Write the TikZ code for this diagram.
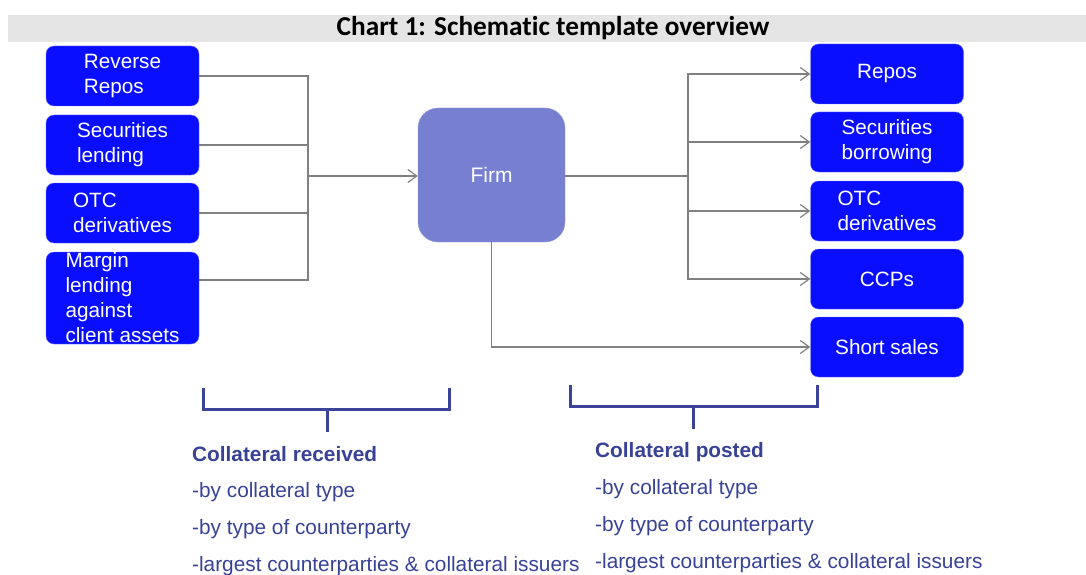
\documentclass[tikz,border=0pt]{standalone}
\usepackage{fontspec}
\setmainfont{Liberation Sans}
\newfontfamily\titlefont[Ligatures=NoCommon]{Carlito}
\usetikzlibrary{arrows.meta}
\definecolor{boxblue}{RGB}{10,14,255}
\definecolor{firmblue}{RGB}{119,128,208}
\definecolor{brackblue}{RGB}{59,68,152}
\definecolor{noteblue}{RGB}{55,66,150}
\definecolor{bandgray}{RGB}{229,229,229}
\tikzset{
  box/.style={draw=boxblue!60!white, fill=boxblue, rounded corners=8pt, minimum width=153pt,
    minimum height=60pt, inner sep=0pt, text=white, align=left, font=\fontsize{20.7}{25}\selectfont},
  conn/.style={draw=gray, line width=1.2pt},
  tip/.style={-{Straight Barb[length=9pt,width=13pt,line width=1.2pt]}},
  brack/.style={draw=brackblue, line width=3pt},
  note/.style={anchor=base west, text=noteblue, inner sep=0pt, font=\fontsize{20.8}{24}\selectfont},
}
\begin{document}
\begin{tikzpicture}[x=1pt,y=-1pt]
	\useasboundingbox (0,0) rectangle (1086,575);
	\fill[bandgray] (8,15) rectangle (1086,42);
	\node[anchor=base,inner sep=0pt,font=\titlefont\bfseries\fontsize{27.3}{30}\selectfont] (title) at (553,36) {Chart 1: Schematic template overview};
	% left side
	\node[box] (rr) at (122.5,76) {Reverse\\Repos};
	\node[box] (sl) at (122.5,145) {Securities\\lending};
	\node[box] (otl) at (122.5,213) {OTC\\derivatives};
	\node[box,minimum height=92pt] (mg) at (122.5,298) {Margin\\lending\\against\\client assets};
	% firm
	\node[fill=firmblue,draw=firmblue!80!white,rounded corners=20pt,minimum width=147pt,minimum height=134pt,text=white,font=\fontsize{21}{25}\selectfont] (firm) at (491.5,175) {Firm};
	% right side
	\node[box] (rp) at (887,74) {Repos};
	\node[box] (sb) at (887,142) {Securities\\borrowing};
	\node[box] (otr) at (887,211) {OTC\\derivatives};
	\node[box] (ccp) at (887,279) {CCPs};
	\node[box] (ss) at (887,347) {Short sales};
	% connectors
	\coordinate (lj) at (308,176);
	\coordinate (rj) at (688,176);
	\foreach \b in {rr,sl,otl}
		\draw[conn] (\b.east) -| (lj);
	\draw[conn] ([yshift=18pt]mg.east) -| (lj);
	\draw[conn,tip,line width=1.8pt] (lj) -- (lj -| firm.west);
	\draw[conn,line width=1.8pt] (firm.east |- rj) -- (rj);
	\foreach \b in {rp,sb,otr,ccp}
		\draw[conn,tip] (rj) |- (\b.west);
	\draw[conn,tip] (firm.south) |- (ss.west);
	% brackets
	\draw[brack] (203,388) -- (203,409) -- (449,409) -- (449,388) (327,409) -- (327,432);
	\draw[brack] (570,385) -- (570,406) -- (817,406) -- (817,385) (693,406) -- (693,429);
	% notes
	\node[note,font=\bfseries\fontsize{20.8}{24}\selectfont] (rc0) at (192,461) {Collateral received};
	\node[note] (rc1) at (192,497) {-by collateral type};
	\node[note] (rc2) at (192,534) {-by type of counterparty};
	\node[note] (rc3) at (192,571) {-largest counterparties \& collateral issuers};
	\node[note,font=\bfseries\fontsize{20.8}{24}\selectfont] (ps0) at (595,457) {Collateral posted};
	\node[note] (ps1) at (595,494) {-by collateral type};
	\node[note] (ps2) at (595,531) {-by type of counterparty};
	\node[note] (ps3) at (595,568) {-largest counterparties \& collateral issuers};
\end{tikzpicture}
\end{document}
